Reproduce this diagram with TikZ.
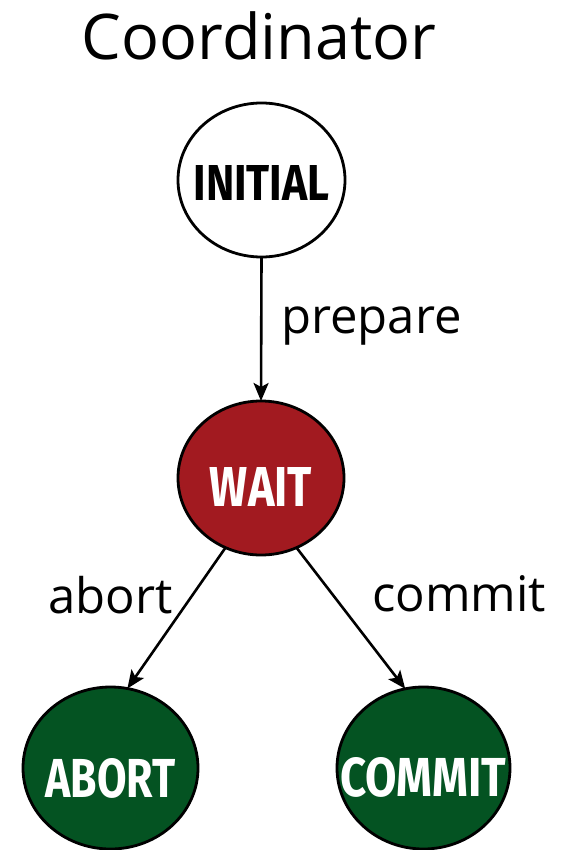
\documentclass[tikz,border=0pt]{standalone}
\usepackage{fontspec}
\usepackage{graphicx}
\setmainfont{Open Sans}
\newfontfamily\statefont{Fira Sans}[UprightFont=* Bold]
\usetikzlibrary{arrows.meta,shapes.geometric}
\definecolor{waitred}{HTML}{A21A20}
\definecolor{donegreen}{HTML}{045322}
% state name: fitted to a given width and cap height, baseline lowered by #4,
% taking no room so that the ellipse keeps its own size
\newcommand{\statename}[4]{\makebox[0pt]{\raisebox{-#4}[0pt][0pt]{\resizebox{#2}{#3}{\statefont #1}}}}
\begin{document}
\begin{tikzpicture}[x=1pt,y=-1pt,
  state/.style={ellipse,draw=black,line width=2.8pt,inner sep=0pt,outer sep=0pt},
  trans/.style={line width=2.6pt,-{Stealth[length=18pt,width=15pt,inset=4pt]}},
  lbl/.style={font=\fontsize{49}{49}\selectfont,inner sep=0pt}]
\useasboundingbox (0,0) rectangle (562,850);
\node[font=\fontsize{63}{63}\selectfont,inner sep=0pt,anchor=base] (title) at (259,60) {Coordinator};
\node[state,fill=white,minimum width=167pt,minimum height=154pt] (init) at (261.5,180)
  {\statename{INITIAL}{136pt}{35pt}{20.5pt}};
\node[state,fill=waitred,text=white,minimum width=166pt,minimum height=154pt] (wait) at (261,478)
  {\statename{WAIT}{102pt}{39pt}{28.5pt}};
\node[state,fill=donegreen,text=white,minimum width=175pt,minimum height=162pt] (abort) at (110.5,768)
  {\statename{ABORT}{130pt}{39pt}{29.5pt}};
\node[state,fill=donegreen,text=white,minimum width=173pt,minimum height=162pt] (commit) at (423.5,768)
  {\statename{COMMIT}{166pt}{39pt}{28.5pt}};
\draw[trans] (init.270) -- (wait.90);
\draw[trans] (wait.243) -- (abort.78);
\draw[trans] (wait.297) -- (commit.103);
\node[lbl,anchor=base west] (lprep) at (281,333) {prepare};
\node[lbl,anchor=base west] (labort) at (48,613) {abort};
\node[lbl,anchor=base west] (lcommit) at (372,611) {commit};
\end{tikzpicture}
\end{document}
